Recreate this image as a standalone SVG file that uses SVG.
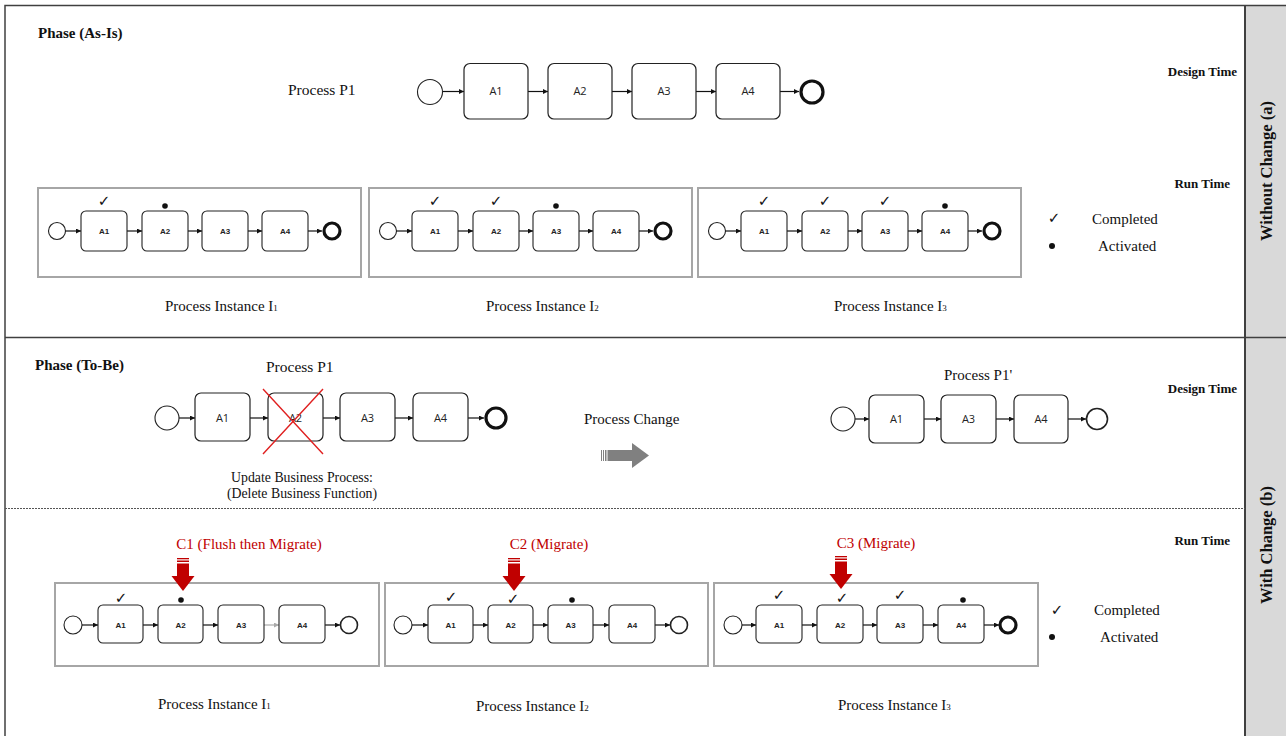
<svg xmlns="http://www.w3.org/2000/svg" width="1286" height="736" viewBox="0 0 1286 736">
<style>
.serif{font-family:"Liberation Serif","Times New Roman",serif;fill:#111}
.b{font-weight:bold}
.box{fill:#fff;stroke:#222;stroke-width:1.2}
.sbox{fill:#fff;stroke:#222;stroke-width:1.1}
.lbl{font-family:"Open Sans","Liberation Sans",sans-serif;font-size:11px;fill:#222;text-anchor:middle}
.slbl{font-family:"Liberation Sans",Arial,sans-serif;font-size:8px;font-weight:bold;fill:#222;text-anchor:middle}
.start{fill:#fff;stroke:#222;stroke-width:1.1}
.endT{fill:#fff;stroke:#111;stroke-width:3.2}
.endN{fill:#fff;stroke:#222;stroke-width:1.6}
.con{stroke:#111;stroke-width:1.2;fill:none;marker-end:url(#ah)}
.cong{stroke:#aaa;stroke-width:1.2;fill:none;marker-end:url(#ahg)}
.frame{fill:none;stroke:#a6a6a6;stroke-width:2}
.chk{font-family:"DejaVu Sans",sans-serif;font-size:15px;fill:#111;text-anchor:middle}
.red{fill:#c00000}
.redt{fill:#c00000}
</style>
<defs>
<marker id="ah" viewBox="0 0 10 10" refX="10" refY="5" markerWidth="5" markerHeight="5" markerUnits="userSpaceOnUse" orient="auto"><path d="M0,0L10,5L0,10z" fill="#111"/></marker>
<marker id="ahg" viewBox="0 0 10 10" refX="10" refY="5" markerWidth="5" markerHeight="5" markerUnits="userSpaceOnUse" orient="auto"><path d="M0,0L10,5L0,10z" fill="#aaa"/></marker>
</defs>
<rect x="0" y="0" width="1286" height="736" fill="#fff"/>
<g id="frame">
<rect x="1245" y="5" width="41" height="731" fill="#d9d9d9"/>
<path d="M5,736V5.5H1286" fill="none" stroke="#404040" stroke-width="1.5"/>
<line x1="1245" y1="5" x2="1245" y2="736" stroke="#404040" stroke-width="2"/>
<line x1="5" y1="337.5" x2="1286" y2="337.5" stroke="#404040" stroke-width="1.5"/>
<line x1="5" y1="508.5" x2="1245" y2="508.5" stroke="#555" stroke-width="1" stroke-dasharray="2,1"/>
<text class="serif b" font-size="16.5" transform="translate(1272,171) rotate(-90)" text-anchor="middle">Without Change (a)</text>
<text class="serif b" font-size="16.5" transform="translate(1272,545) rotate(-90)" text-anchor="middle">With Change (b)</text>
</g>
<g id="labels">
<text class="serif b" x="38" y="38" font-size="15">Phase (As-Is)</text>
<text class="serif b" x="35" y="370" font-size="15">Phase (To-Be)</text>
<text class="serif b" x="1237" y="76" font-size="13" text-anchor="end">Design Time</text>
<text class="serif b" x="1230" y="188" font-size="13" text-anchor="end">Run Time</text>
<text class="serif b" x="1237" y="393" font-size="13" text-anchor="end">Design Time</text>
<text class="serif b" x="1230" y="545" font-size="13" text-anchor="end">Run Time</text>
<text class="serif" x="288" y="95" font-size="15.5">Process P1</text>
<text class="serif" x="266" y="372" font-size="15.5">Process P1</text>
<text class="serif" x="944" y="380" font-size="15">Process P1'</text>
<text class="serif" x="584" y="424" font-size="15">Process Change</text>
<text class="serif" x="302" y="482" font-size="13.8" text-anchor="middle">Update Business Process:</text>
<text class="serif" x="302" y="498" font-size="13.8" text-anchor="middle">(Delete Business Function)</text>
</g>
<g id="legend-a">
<text class="chk" x="1054" y="223">✓</text>
<text class="serif" x="1092" y="224" font-size="15">Completed</text>
<circle cx="1052" cy="246" r="3" fill="#111"/>
<text class="serif" x="1098" y="251" font-size="15">Activated</text>
</g>
<g id="legend-b">
<text class="chk" x="1057" y="615">✓</text>
<text class="serif" x="1094" y="615" font-size="15">Completed</text>
<circle cx="1052" cy="637" r="3" fill="#111"/>
<text class="serif" x="1100" y="642" font-size="15">Activated</text>
</g>
<g id="connectors">
<line class="con" x1="442.5" y1="91.5" x2="464" y2="91.5"/>
<line class="con" x1="528" y1="91.5" x2="548" y2="91.5"/>
<line class="con" x1="612" y1="91.5" x2="632" y2="91.5"/>
<line class="con" x1="696" y1="91.5" x2="716" y2="91.5"/>
<line class="con" x1="780" y1="91.5" x2="799" y2="91.5"/>
<line class="con" x1="179" y1="418" x2="195" y2="418"/>
<line class="con" x1="250" y1="418" x2="268" y2="418"/>
<line class="con" x1="323" y1="418" x2="340" y2="418"/>
<line class="con" x1="395" y1="418" x2="413" y2="418"/>
<line class="con" x1="468" y1="418" x2="484" y2="418"/>
<line class="con" x1="855" y1="419" x2="869" y2="419"/>
<line class="con" x1="924" y1="419" x2="941" y2="419"/>
<line class="con" x1="996" y1="419" x2="1014" y2="419"/>
<line class="con" x1="1068" y1="419" x2="1086" y2="419"/>
</g>
<g id="process-p1">
<circle class="start" cx="430" cy="92" r="12.5"/>
<rect class="box" x="464" y="63.5" width="64" height="55.5" rx="6"/><text class="lbl" x="496" y="95">A1</text>
<rect class="box" x="548" y="63.5" width="64" height="55.5" rx="6"/><text class="lbl" x="580" y="95">A2</text>
<rect class="box" x="632" y="63.5" width="64" height="55.5" rx="6"/><text class="lbl" x="664" y="95">A3</text>
<rect class="box" x="716" y="63.5" width="64" height="55.5" rx="6"/><text class="lbl" x="748" y="95">A4</text>
<circle class="endT" cx="812" cy="92" r="11"/>
</g>
<g id="top-instance-1" transform="translate(38,188)">
<rect class="frame" x="0" y="0" width="323" height="89"/>
<circle class="start" cx="19" cy="43" r="8.5"/>
<line class="con" x1="27.5" y1="43" x2="43" y2="43"/>
<line class="con" x1="89" y1="43" x2="104" y2="43"/>
<line class="con" x1="150" y1="43" x2="164" y2="43"/>
<line class="con" x1="210" y1="43" x2="224" y2="43"/>
<line class="con" x1="270" y1="43" x2="284" y2="43"/>
<rect class="sbox" x="43" y="23" width="46" height="40" rx="5"/><text class="slbl" x="66" y="46">A1</text>
<rect class="sbox" x="104" y="23" width="46" height="40" rx="5"/><text class="slbl" x="127" y="46">A2</text>
<rect class="sbox" x="164" y="23" width="46" height="40" rx="5"/><text class="slbl" x="187" y="46">A3</text>
<rect class="sbox" x="224" y="23" width="46" height="40" rx="5"/><text class="slbl" x="247" y="46">A4</text>
<circle class="endT" cx="294" cy="43" r="8"/>
<text class="chk" x="66" y="18">✓</text>
<circle cx="127" cy="18" r="2.8" fill="#111"/>
</g>
<g id="top-instance-2" transform="translate(369,188)">
<rect class="frame" x="0" y="0" width="323" height="89"/>
<circle class="start" cx="19" cy="43" r="8.5"/>
<line class="con" x1="27.5" y1="43" x2="43" y2="43"/>
<line class="con" x1="89" y1="43" x2="104" y2="43"/>
<line class="con" x1="150" y1="43" x2="164" y2="43"/>
<line class="con" x1="210" y1="43" x2="224" y2="43"/>
<line class="con" x1="270" y1="43" x2="284" y2="43"/>
<rect class="sbox" x="43" y="23" width="46" height="40" rx="5"/><text class="slbl" x="66" y="46">A1</text>
<rect class="sbox" x="104" y="23" width="46" height="40" rx="5"/><text class="slbl" x="127" y="46">A2</text>
<rect class="sbox" x="164" y="23" width="46" height="40" rx="5"/><text class="slbl" x="187" y="46">A3</text>
<rect class="sbox" x="224" y="23" width="46" height="40" rx="5"/><text class="slbl" x="247" y="46">A4</text>
<circle class="endT" cx="294" cy="43" r="8"/>
<text class="chk" x="66" y="18">✓</text>
<text class="chk" x="127" y="18">✓</text>
<circle cx="187" cy="18" r="2.8" fill="#111"/>
</g>
<g id="top-instance-3" transform="translate(698,188)">
<rect class="frame" x="0" y="0" width="323" height="89"/>
<circle class="start" cx="19" cy="43" r="8.5"/>
<line class="con" x1="27.5" y1="43" x2="43" y2="43"/>
<line class="con" x1="89" y1="43" x2="104" y2="43"/>
<line class="con" x1="150" y1="43" x2="164" y2="43"/>
<line class="con" x1="210" y1="43" x2="224" y2="43"/>
<line class="con" x1="270" y1="43" x2="284" y2="43"/>
<rect class="sbox" x="43" y="23" width="46" height="40" rx="5"/><text class="slbl" x="66" y="46">A1</text>
<rect class="sbox" x="104" y="23" width="46" height="40" rx="5"/><text class="slbl" x="127" y="46">A2</text>
<rect class="sbox" x="164" y="23" width="46" height="40" rx="5"/><text class="slbl" x="187" y="46">A3</text>
<rect class="sbox" x="224" y="23" width="46" height="40" rx="5"/><text class="slbl" x="247" y="46">A4</text>
<circle class="endT" cx="294" cy="43" r="8"/>
<text class="chk" x="66" y="18">✓</text>
<text class="chk" x="127" y="18">✓</text>
<text class="chk" x="187" y="18">✓</text>
<circle cx="247" cy="18" r="2.8" fill="#111"/>
</g>
<g id="top-instance-labels">
<text class="serif" x="165" y="311" font-size="15">Process Instance I<tspan font-size="9">1</tspan></text>
<text class="serif" x="486" y="311" font-size="15">Process Instance I<tspan font-size="9">2</tspan></text>
<text class="serif" x="834" y="311" font-size="15">Process Instance I<tspan font-size="9">3</tspan></text>
</g>
<g id="process-p1-tobe">
<circle class="start" cx="167" cy="418" r="12"/>
<rect class="box" x="195" y="393" width="55" height="48" rx="6"/><text class="lbl" x="222.5" y="422">A1</text>
<rect class="box" x="268" y="393" width="55" height="48" rx="6"/><text class="lbl" x="295.5" y="422">A2</text>
<rect class="box" x="340" y="393" width="55" height="48" rx="6"/><text class="lbl" x="367.5" y="422">A3</text>
<rect class="box" x="413" y="393" width="55" height="48" rx="6"/><text class="lbl" x="440.5" y="422">A4</text>
<circle class="endT" cx="496" cy="418" r="10"/>
<path d="M263,389L323,454M323,389L263,454" stroke="#e02020" stroke-width="1.4" fill="none"/>
</g>
<g id="change-arrow" fill="#808080">
<rect x="601" y="450" width="1" height="11"/>
<rect x="603" y="450" width="1" height="11"/>
<rect x="605" y="450" width="1.5" height="11"/>
<rect x="607.5" y="450" width="25" height="11"/>
<path d="M632,443L649,455.5L632,468z"/>
</g>
<g id="process-p1-prime">
<circle class="start" cx="843" cy="419" r="12"/>
<rect class="box" x="869" y="395" width="55" height="48" rx="6"/><text class="lbl" x="896.5" y="423">A1</text>
<rect class="box" x="941" y="395" width="55" height="48" rx="6"/><text class="lbl" x="968.5" y="423">A3</text>
<rect class="box" x="1014" y="395" width="54" height="48" rx="6"/><text class="lbl" x="1041" y="423">A4</text>
<circle class="endN" cx="1097" cy="419" r="10.5"/>
</g>
<g id="bottom-instance-1" transform="translate(55,583)">
<rect class="frame" x="0" y="0" width="324" height="83"/>
<circle class="start" cx="18" cy="42" r="9"/>
<line class="con" x1="27" y1="42" x2="43" y2="42"/>
<line class="con" x1="88" y1="42" x2="103" y2="42"/>
<line class="con" x1="148" y1="42" x2="163" y2="42"/>
<line class="cong" x1="209" y1="42" x2="224" y2="42"/>
<line class="con" x1="270" y1="42" x2="285" y2="42"/>
<rect class="sbox" x="43" y="22" width="45" height="38" rx="5"/><text class="slbl" x="65.5" y="45">A1</text>
<rect class="sbox" x="103" y="22" width="45" height="38" rx="5"/><text class="slbl" x="125.5" y="45">A2</text>
<rect class="sbox" x="163" y="22" width="46" height="38" rx="5"/><text class="slbl" x="186" y="45">A3</text>
<rect class="sbox" x="224" y="22" width="46" height="38" rx="5"/><text class="slbl" x="247" y="45">A4</text>
<circle class="endN" cx="294" cy="42" r="8.5"/>
<text class="chk" x="66" y="20">✓</text>
<circle cx="126" cy="17" r="2.8" fill="#111"/>
</g>
<g id="bottom-instance-2" transform="translate(385,583)">
<rect class="frame" x="0" y="0" width="323" height="83"/>
<circle class="start" cx="18" cy="42" r="9"/>
<line class="con" x1="27" y1="42" x2="43" y2="42"/>
<line class="con" x1="88" y1="42" x2="103" y2="42"/>
<line class="con" x1="148" y1="42" x2="163" y2="42"/>
<line class="con" x1="208" y1="42" x2="224" y2="42"/>
<line class="con" x1="270" y1="42" x2="285" y2="42"/>
<rect class="sbox" x="43" y="22" width="45" height="38" rx="5"/><text class="slbl" x="65.5" y="45">A1</text>
<rect class="sbox" x="103" y="22" width="45" height="38" rx="5"/><text class="slbl" x="125.5" y="45">A2</text>
<rect class="sbox" x="163" y="22" width="45" height="38" rx="5"/><text class="slbl" x="185.5" y="45">A3</text>
<rect class="sbox" x="224" y="22" width="46" height="38" rx="5"/><text class="slbl" x="247" y="45">A4</text>
<circle class="endN" cx="294" cy="42" r="8.5"/>
<text class="chk" x="66" y="19">✓</text>
<text class="chk" x="128" y="21">✓</text>
<circle cx="187" cy="17" r="2.8" fill="#111"/>
</g>
<g id="bottom-instance-3" transform="translate(714,583)">
<rect class="frame" x="0" y="0" width="324" height="83"/>
<circle class="start" cx="19" cy="42" r="9"/>
<line class="con" x1="28" y1="42" x2="42" y2="42"/>
<line class="con" x1="88" y1="42" x2="103" y2="42"/>
<line class="con" x1="149" y1="42" x2="163" y2="42"/>
<line class="con" x1="209" y1="42" x2="224" y2="42"/>
<line class="con" x1="270" y1="42" x2="285" y2="42"/>
<rect class="sbox" x="42" y="22" width="46" height="38" rx="5"/><text class="slbl" x="65" y="45">A1</text>
<rect class="sbox" x="103" y="22" width="46" height="38" rx="5"/><text class="slbl" x="126" y="45">A2</text>
<rect class="sbox" x="163" y="22" width="46" height="38" rx="5"/><text class="slbl" x="186" y="45">A3</text>
<rect class="sbox" x="224" y="22" width="46" height="38" rx="5"/><text class="slbl" x="247" y="45">A4</text>
<circle class="endT" cx="294" cy="42" r="8"/>
<text class="chk" x="65" y="17">✓</text>
<text class="chk" x="128" y="20">✓</text>
<text class="chk" x="186" y="17">✓</text>
<circle cx="249" cy="17" r="2.8" fill="#111"/>
</g>
<g id="change-markers">
<text x="249" y="549" font-size="15" class="serif redt" style="fill:#c00000" text-anchor="middle">C1 (Flush then Migrate)</text>
<text x="549" y="549" font-size="15" class="serif redt" style="fill:#c00000" text-anchor="middle">C2 (Migrate)</text>
<text x="876" y="548" font-size="15" class="serif redt" style="fill:#c00000" text-anchor="middle">C3 (Migrate)</text>
<g class="red" transform="translate(183,0)">
<rect x="-6" y="558" width="12" height="1.3"/><rect x="-6" y="560.5" width="12" height="1.5"/><rect x="-6" y="563.5" width="12" height="13"/>
<path d="M-11.5,576H11.5L0,591z"/>
</g>
<g class="red" transform="translate(514,0)">
<rect x="-6" y="558" width="12" height="1.3"/><rect x="-6" y="560.5" width="12" height="1.5"/><rect x="-6" y="563.5" width="12" height="13"/>
<path d="M-11.5,576H11.5L0,591z"/>
</g>
<g class="red" transform="translate(841,-2)">
<rect x="-6" y="558" width="12" height="1.3"/><rect x="-6" y="560.5" width="12" height="1.5"/><rect x="-6" y="563.5" width="12" height="13"/>
<path d="M-11.5,576H11.5L0,591z"/>
</g>
</g>
<g id="bottom-instance-labels">
<text class="serif" x="158" y="709" font-size="15">Process Instance I<tspan font-size="9">1</tspan></text>
<text class="serif" x="476" y="711" font-size="15">Process Instance I<tspan font-size="9">2</tspan></text>
<text class="serif" x="838" y="710" font-size="15">Process Instance I<tspan font-size="9">3</tspan></text>
</g>
</svg>
